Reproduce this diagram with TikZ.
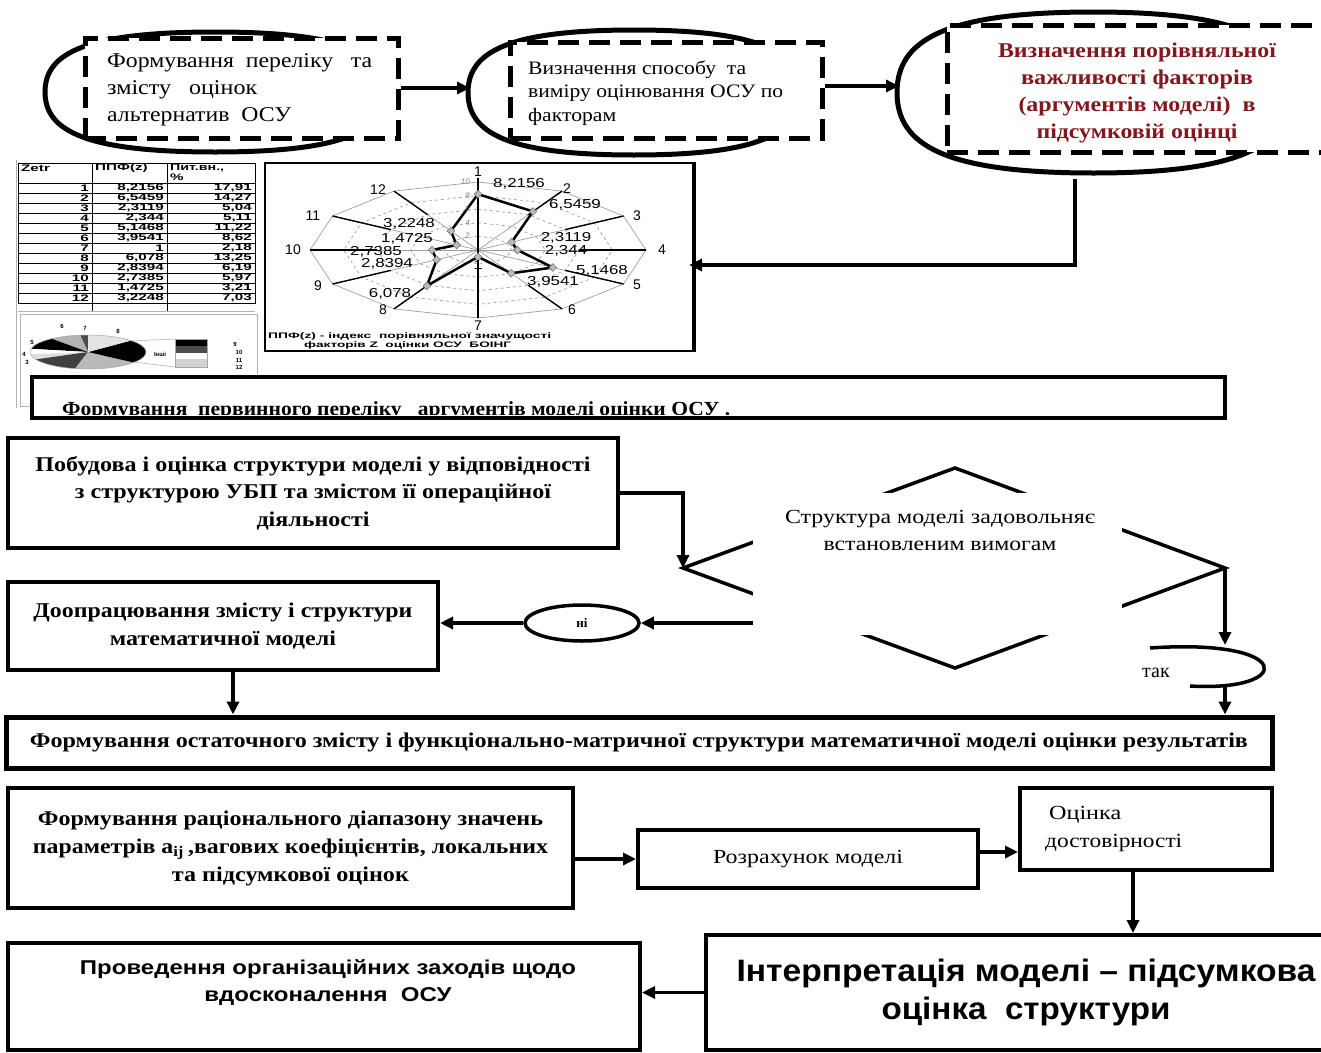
\documentclass[tikz,border=0pt]{standalone}
\usepackage{fontspec}
\usepackage{graphicx}
\setmainfont{Liberation Serif}
\newfontfamily\sansf{Liberation Sans}
\usetikzlibrary{arrows.meta,calc,shapes.geometric}
\definecolor{dred}{RGB}{130,24,30}
\newcommand\fw[2]{\resizebox{#1pt}{\height}{#2}}
\newcommand\wx[2]{\scalebox{#1}[1]{#2}}
\newcommand\myblob[4]{%
  \pgfmathsetmacro\bM{(#3+#4)/2}\pgfmathsetmacro\bC{(#1+#2)/2}%
  \pgfmathsetmacro\bW{#2-#1}%
  \draw[line width=5pt,fill=white] (#1,\bM) .. controls (#1,{#3+0.35*(\bM-#3)}) and ({#1+0.12*\bW},#3) .. (\bC,#3)
   .. controls ({#2-0.12*\bW},#3) and (#2,{#3+0.35*(\bM-#3)}) .. (#2,\bM)
   .. controls (#2,{#4-0.35*(#4-\bM)}) and ({#2-0.12*\bW},#4) .. (\bC,#4)
   .. controls ({#1+0.12*\bW},#4) and (#1,{#4-0.35*(#4-\bM)}) .. (#1,\bM) -- cycle;}
\newcommand\trow[3]{%
  \node[tbl, anchor=east] at (89,{178+10*#1}) {\wx{1.6}{#1}};
  \node[tbl, anchor=east] at (164,{178+10*#1}) {\wx{1.6}{#2}};
  \node[tbl, anchor=east] at (252,{178+10*#1}) {\wx{1.6}{#3}};}
\tikzset{
  box/.style={draw, line width=4pt, fill=white, inner sep=0pt},
  dbox/.style={draw, line width=5pt, dash pattern=on 21pt off 10pt, fill=white, inner sep=0pt},
  arr/.style={line width=3.5pt, -{Triangle[length=13pt,width=12pt]}},
  ln/.style={line width=3.5pt},
  tbl/.style={font=\sansf\bfseries\fontsize{9.5}{9.5}\selectfont, inner sep=0pt},
  rl/.style={font=\sansf\fontsize{13}{13}\selectfont, inner sep=0pt},
  al/.style={font=\sansf\fontsize{14}{14}\selectfont, inner sep=0pt},
  pl/.style={font=\sansf\bfseries\fontsize{6}{6}\selectfont, inner sep=0pt},
  bt/.style={font=\fontsize{21}{27.5}\selectfont\bfseries, align=center},
}
\begin{document}
\begin{tikzpicture}[x=1pt,y=-1pt]
\useasboundingbox (0,0) rectangle (1321,1052);
\fill[white] (0,0) rectangle (1321,1052);

% ---------- top row ----------
\myblob{45}{385}{32}{152}
\myblob{468}{800}{30}{155}
\myblob{897}{1290}{12}{173}
\node[dbox, minimum width=313pt, minimum height=100pt] (dr1) at (241.5,88) {};
\node[dbox, minimum width=312pt, minimum height=96pt] (dr2) at (666,90) {};
\node[dbox, minimum width=398pt, minimum height=127pt] (dr3) at (1146,88.5) {};
\node[anchor=west, align=left, font=\fontsize{21}{27}\selectfont, inner sep=0pt] (t1) at (107,90)
  {\fw{265}{Формування\ \ переліку\ \ \ та}\\\fw{150}{змісту\ \ \ оцінок}\\\fw{184}{альтернатив\ \ ОСУ}};
\node[anchor=west, align=left, font=\fontsize{19}{23.5}\selectfont, inner sep=0pt] (t2) at (528,93)
  {\fw{218}{Визначення способу\ \ та}\\\fw{255}{виміру оцінювання ОСУ по}\\\fw{88}{факторам}};
\node[align=center, font=\fontsize{21}{27}\selectfont\bfseries, text=dred, inner sep=0pt] (t3) at (1137,93)
  {\fw{278}{Визначення порівняльної}\\\fw{232}{важливості факторів}\\\fw{237}{(аргументів моделі)\ \ в}\\\fw{201}{підсумковій оцінці}};
\coordinate (e2in) at (470,88);
\coordinate (e3in) at (899,86);
\coordinate (e3out) at (1075,179);
\draw[arr] (dr1.east) -- (e2in);
\draw[arr] (dr2.east |- e3in) -- (e3in);

% ---------- spreadsheet table ----------
\draw[gray!60, line width=0.6pt] (16,160) -- (16,408);
\draw[line width=0.8pt] (18,163) rectangle (255,303);
\foreach \xx in {92,167} \draw[line width=0.8pt] (\xx,163) -- (\xx,311);
\foreach \i in {0,...,12} \draw[line width=0.8pt] (18,{183+10*\i}) -- (255,{183+10*\i});
\draw[gray!60, line width=0.6pt] (18,311) -- (255,311);
\node[tbl, anchor=west] at (21,168) {\wx{1.6}{Zetr}};
\node[tbl, anchor=west] at (95,168) {\wx{1.6}{ППФ(z)}};
\node[tbl, anchor=west] at (170,168) {\wx{1.5}{Пит.вн.,}};
\node[tbl, anchor=west] at (170,177) {\wx{1.6}{\%}};
\trow{1}{8,2156}{17,91}
\trow{2}{6,5459}{14,27}
\trow{3}{2,3119}{5,04}
\trow{4}{2,344}{5,11}
\trow{5}{5,1468}{11,22}
\trow{6}{3,9541}{8,62}
\trow{7}{1}{2,18}
\trow{8}{6,078}{13,25}
\trow{9}{2,8394}{6,19}
\trow{10}{2,7385}{5,97}
\trow{11}{1,4725}{3,21}
\trow{12}{3,2248}{7,03}

% ---------- pie chart ----------
\draw[gray!60, line width=0.8pt] (20,314) rectangle (257,406);
\begin{scope}[shift={(88,352)}, x=58pt, y=17pt]
  \fill[black!70] (0,0) -- (90:1) arc[start angle=90, end angle=97.8, radius=1] -- cycle;
  \fill[gray!60] (0,0) -- (97.8:1) arc[start angle=97.8, end angle=128.8, radius=1] -- cycle;
  \fill[black] (0,0) -- (128.8:1) arc[start angle=128.8, end angle=169.2, radius=1] -- cycle;
  \fill[white] (0,0) -- (169.2:1) arc[start angle=169.2, end angle=187.6, radius=1] -- cycle;
  \fill[gray!25] (0,0) -- (187.6:1) arc[start angle=187.6, end angle=205.8, radius=1] -- cycle;
  \fill[black!75] (0,0) -- (205.8:1) arc[start angle=205.8, end angle=257.2, radius=1] -- cycle;
  \fill[gray!55] (0,0) -- (257.2:1) arc[start angle=257.2, end angle=321.7, radius=1] -- cycle;
  \fill[black] (0,0) -- (321.7:1) arc[start angle=321.7, end angle=402.3, radius=1] -- cycle;
  \fill[gray!22] (0,0) -- (402.3:1) arc[start angle=402.3, end angle=450, radius=1] -- cycle;
  \draw[gray!70, line width=0.5pt] (0,0) circle[radius=1];
\end{scope}
\draw[gray!70, line width=0.5pt] (131,341) -- (175,339) (133.5,362) -- (175,367);
\fill[black] (175,339) rectangle (207,346);
\fill[black!70] (175,346) rectangle (207,353);
\fill[white] (175,353) rectangle (207,359);
\fill[gray!35] (175,359) rectangle (207,367);
\draw[gray!70, line width=0.5pt] (175,339) rectangle (207,367);
\node[pl] at (160,354) {Інші};
\node[pl] at (32,342) {5};
\node[pl] at (62,326) {6};
\node[pl] at (85,328) {7};
\node[pl] at (118,331) {8};
\node[pl] at (24,354) {4};
\node[pl] at (27,362) {3};
\node[pl] at (235,344) {9};
\node[pl] at (239,352) {10};
\node[pl] at (239,360) {11};
\node[pl] at (239,367) {12};

% ---------- radar chart ----------
\node[draw, line width=2.5pt, minimum width=428pt, minimum height=188pt, inner sep=0pt] (chart) at (479,257) {};
\draw[line width=4pt] (chart.north east) -- (chart.south east);
\coordinate (chartin) at (689,265);
\def\rcx{478}\def\rcy{250}\def\rrx{168}\def\rry{68}
\draw[gray!75, line width=0.7pt] ({\rcx},{\rcy-\rry}) \foreach \a in {60,30,...,-240} {-- ({\rcx+\rrx*cos(\a)},{\rcy-\rry*sin(\a)})} -- cycle;
\foreach \r in {0.8,0.6,0.4,0.2}
  \draw[gray!75, line width=0.7pt, dashed] ({\rcx},{\rcy-\r*\rry}) \foreach \a in {60,30,...,-240} {-- ({\rcx+\r*\rrx*cos(\a)},{\rcy-\r*\rry*sin(\a)})} -- cycle;
\foreach \a in {0,30,...,330} {
  \draw[gray!75, line width=0.7pt] (\rcx,\rcy) -- ({\rcx+\rrx*cos(\a)},{\rcy-\rry*sin(\a)});
  \draw[line width=1.4pt] ({\rcx+0.6*\rrx*cos(\a)},{\rcy-0.6*\rry*sin(\a)}) -- ({\rcx+\rrx*cos(\a)},{\rcy-\rry*sin(\a)});
}
\draw[line width=2.5pt] (\rcx,{\rcy-\rry-4}) -- (\rcx,{\rcy+\rry});
\foreach \v [count=\k] in {8.2156,6.5459,2.3119,2.344,5.1468,3.9541,1,6.078,2.8394,2.7385,1.4725,3.2248}
  \coordinate (rp\k) at ({\rcx+0.1*\v*\rrx*cos(90-30*(\k-1))},{\rcy-0.1*\v*\rry*sin(90-30*(\k-1))});
\draw[line width=2.5pt, line join=round] (rp1) \foreach \k in {2,...,12} {-- (rp\k)} -- cycle;
\foreach \k in {1,...,12} \node[diamond, fill=gray!55, draw=gray!80!black, inner sep=0pt, minimum size=8pt] at (rp\k) {};
\foreach \t/\yy in {10/182,8/196,6/209,4/223,2/236}
  \node[font=\sansf\itshape\fontsize{8}{8}\selectfont, text=gray, inner sep=0pt, anchor=east] at (470,\yy) {\t};
\node[al] at (478,172) {1};
\node[al] at (567,189) {2};
\node[al] at (637,216) {3};
\node[al] at (662,250) {4};
\node[al] at (637,285) {5};
\node[al] at (572,310) {6};
\node[al] at (478,326) {7};
\node[al] at (383,310) {8};
\node[al] at (318,286) {9};
\node[al] at (293,250) {10};
\node[al] at (313,216) {11};
\node[al] at (378,190) {12};
\node[rl] at (519,184) {\wx{1.3}{8,2156}};
\node[rl] at (575,205) {\wx{1.3}{6,5459}};
\node[rl] at (566,238) {\wx{1.3}{2,3119}};
\node[rl] at (566,251) {\wx{1.3}{2,344}};
\node[rl] at (602,271) {\wx{1.3}{5,1468}};
\node[rl] at (553,282) {\wx{1.3}{3,9541}};
\node[rl] at (478,265) {\wx{1.3}{1}};
\node[rl] at (390,294) {\wx{1.3}{6,078}};
\node[rl] at (387,264) {\wx{1.3}{2,8394}};
\node[rl] at (376,252) {\wx{1.3}{2,7385}};
\node[rl] at (407,239) {\wx{1.3}{1,4725}};
\node[rl] at (409,224) {\wx{1.3}{3,2248}};
\node[font=\sansf\bfseries\fontsize{8}{9.5}\selectfont, align=left, inner sep=0pt, anchor=west] at (268,341)
  {\fw{283}{ППФ(z) - індекс\ \ порівняльної значущості}\\\hspace*{36pt}\fw{207}{факторів Z\ \ оцінки ОСУ\ \ БОІНГ}};
\draw[arr] (e3out) |- (chartin);

% ---------- box 4 ----------
\node[box, minimum width=1193pt, minimum height=41pt] (b4) at (628.5,397.5) {};
\begin{scope}
  \clip (34,379) rectangle (1223,414);
  \node[anchor=west, font=\fontsize{20}{24}\selectfont\bfseries, inner sep=0pt] (t4) at (62,411)
    {\fw{668}{Формування\ \ первинного переліку\ \ \ аргументів моделі оцінки ОСУ .}};
\end{scope}

% ---------- box 5, diamond ----------
\node[box, bt, minimum width=610pt, minimum height=110pt] (b5) at (313,493)
  {\fw{555}{Побудова і оцінка структури моделі у відповідності}\\\fw{476}{з структурою УБП та змістом її операційної}\\\fw{113}{діяльності}};
\coordinate (dT) at (955,468);
\coordinate (dL) at (683,568);
\coordinate (dR) at (1225,568);
\coordinate (dB) at (955,668);
\draw[ln] (dT) -- (dR) -- (dB) -- (dL) -- cycle;
\node[fill=white, minimum width=369pt, minimum height=142pt, inner sep=0pt] (dw) at (937.5,564) {};
\node[font=\fontsize{20}{27}\selectfont, align=center, inner sep=0pt] (dtxt) at (940,530)
  {\fw{310}{Структура моделі задовольняє}\\\fw{233}{встановленим вимогам}};
\draw[arr] (b5.east) -| (dL);

% ---------- box 7 and "ні" ----------
\node[box, bt, minimum width=430pt, minimum height=88pt] (b7) at (223,626)
  {\fw{379}{Доопрацювання змісту і структури}\\\fw{226}{математичної моделі}};
\node[ellipse, draw, line width=3.5pt, minimum width=114pt, minimum height=36pt, inner sep=0pt,
  font=\fontsize{13}{13}\selectfont\bfseries] (ni) at (582,623) {ні};
\coordinate (dno) at (753,623);
\draw[arr] (dno) -- (ni.east);
\draw[arr] (ni.west) -- (ni.west -| b7.east);

% ---------- box 8 ----------
\node[box, line width=5pt, minimum width=1266pt, minimum height=51pt, font=\fontsize{21}{24}\selectfont\bfseries] (b8) at (639,742.5)
  {\fw{1218}{Формування остаточного змісту і функціонально-матричної структури математичної моделі оцінки результатів}};
\coordinate (tak1) at (1225,645);
\coordinate (tak2) at (1225,686);
\draw[arr] (dR) -- (tak1);
\draw[ln] (1150,648) .. controls (1295,638) and (1295,692) .. (1190,686);
\node[font=\fontsize{20}{20}\selectfont, inner sep=0pt] (tak) at (1156,673) {так};
\draw[arr] (tak2) -- (tak2 |- b8.north);
\coordinate (b7s) at ($(b7.south)+(10,0)$);
\draw[arr] (b7s) -- (b7s |- b8.north);

% ---------- row of boxes 9-11 ----------
\node[box, bt, font=\fontsize{21}{28}\selectfont\bfseries, minimum width=565pt, minimum height=120pt] (b9) at (290.5,848)
  {\fw{505}{Формування раціонального діапазону значень}\\\fw{515}{параметрів a\textsubscript{ij}\,,вагових коефіцієнтів, локальних}\\\fw{237}{та підсумкової оцінок}};
\node[box, minimum width=340pt, minimum height=58pt, font=\fontsize{20}{24}\selectfont] (b10) at (808,859)
  {\fw{190}{Розрахунок моделі}};
\node[box, minimum width=252pt, minimum height=82pt] (b11) at (1146,829) {};
\node[anchor=west, align=left, font=\fontsize{20}{28}\selectfont, inner sep=0pt] (t11) at (1045,829)
  {\hspace*{4pt}\fw{72}{Оцінка}\\\fw{137}{достовірності}};
\draw[arr] (b9.east |- b10.west) -- (b10.west);
\coordinate (b10o) at ($(b10.east)+(0,-7)$);
\draw[arr] (b10o) -- (b10o -| b11.west);

% ---------- bottom row ----------
\node[box, minimum width=640pt, minimum height=115pt, align=center, font=\sansf\bfseries\fontsize{31}{38}\selectfont] (b12) at (1026,992.5)
  {\fw{579}{Інтерпретація моделі – підсумкова}\\\fw{289}{оцінка\ \ структури}};
\node[box, minimum width=632pt, minimum height=107pt] (b13) at (324,996.5) {};
\node[align=center, font=\sansf\bfseries\fontsize{20}{27}\selectfont, inner sep=0pt] (t13) at (328,983)
  {\fw{496}{Проведення організаційних заходів щодо}\\\fw{247}{вдосконалення\ \ ОСУ}};
\coordinate (b11s) at ($(b11.south)+(-13,0)$);
\draw[arr] (b11s) -- (b11s |- b12.north);
\draw[arr] (b12.west) -- (b12.west -| b13.east);
\end{tikzpicture}
\end{document}
